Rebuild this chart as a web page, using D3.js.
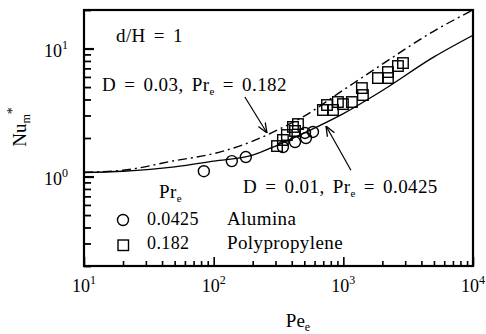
<!DOCTYPE html>
<html>
<head>
<meta charset="utf-8">
<script src="https://cdn.jsdelivr.net/npm/d3@7"></script>
<style>
  body { margin: 0; background: white; }
  svg { display: block; font-family: "Liberation Serif", "DejaVu Serif", serif; }
</style>
</head>
<body>
<div id="chart"></div>
<script>
// measured points, Alumina (Pr_e = 0.0425)
const aluminaPe = [84, 138, 177, 342, 424, 515, 506, 583];
const aluminaNu = [1.10, 1.32, 1.42, 1.70, 1.86, 2.00, 2.19, 2.23];

// measured points, Polypropylene (Pr_e = 0.182)
const polyPe = [308, 342, 367, 409, 447, 424, 696, 748, 832, 908, 993, 1164, 1390, 1416, 1849, 2208, 2208, 2636, 2884];
const polyNu = [1.73, 1.93, 2.11, 2.44, 2.57, 2.27, 3.31, 3.62, 3.31, 3.82, 3.68, 3.82, 4.91, 4.33, 5.88, 6.55, 5.88, 7.30, 7.70];

// predicted curves
const curvePe = [10, 20, 50, 100, 200, 300, 500, 1000, 2000, 5000, 10000];
const solidNu = [1.075, 1.10, 1.19, 1.32, 1.47, 1.73, 2.19, 3.10, 4.70, 8.60, 12.7];   // D = 0.01, Pr_e = 0.0425
const dashNu  = [1.08, 1.12, 1.33, 1.51, 1.89, 2.27, 2.97, 4.74, 7.55, 13.7, 20.0];   // D = 0.03, Pr_e = 0.182

const xDecades = [10, 100, 1000, 10000];
const yDecades = [1, 10];

const width = 486, height = 334;
const margin = {left: 84, right: 13, top: 10, bottom: 68};

const x = d3.scaleLog().domain([10, 10000]).range([margin.left, width - margin.right]);
const y = d3.scaleLog().domain([0.2, 20]).range([height - margin.bottom, margin.top]);

const svg = d3.create("svg")
    .attr("width", width)
    .attr("height", height)
    .attr("viewBox", [0, 0, width, height]);

// minor tick values
const xMinor = [];
for (const d of [10, 100, 1000]) for (let k = 2; k <= 9; k++) xMinor.push(d * k);
const yMinor = [];
for (const d of [0.1, 1, 10]) for (let k = 2; k <= 9; k++) if (d * k >= 0.2 && d * k <= 20) yMinor.push(d * k);

// x ticks (inside)
svg.append("g")
    .attr("transform", `translate(0,${y.range()[0]})`)
    .call(d3.axisBottom(x).tickValues(xMinor).tickSizeInner(-5).tickSizeOuter(0).tickFormat(""))
    .call(g => g.select(".domain").remove())
    .selectAll("line").attr("stroke-width", 1.6);
svg.append("g")
    .attr("transform", `translate(0,${y.range()[0]})`)
    .call(d3.axisBottom(x).tickValues(xDecades).tickSizeInner(-9).tickSizeOuter(0).tickFormat(""))
    .call(g => g.select(".domain").remove())
    .selectAll("line").attr("stroke-width", 1.6);

// y ticks (inside)
svg.append("g")
    .attr("transform", `translate(${x.range()[0]},0)`)
    .call(d3.axisLeft(y).tickValues(yMinor).tickSizeInner(-7).tickSizeOuter(0).tickFormat(""))
    .call(g => g.select(".domain").remove())
    .selectAll("line").attr("stroke-width", 1.8);
svg.append("g")
    .attr("transform", `translate(${x.range()[0]},0)`)
    .call(d3.axisLeft(y).tickValues(yDecades).tickSizeInner(-10).tickSizeOuter(0).tickFormat(""))
    .call(g => g.select(".domain").remove())
    .selectAll("line").attr("stroke-width", 2.2);

// frame
svg.append("rect")
    .attr("x", x.range()[0])
    .attr("y", y.range()[1])
    .attr("width", x.range()[1] - x.range()[0])
    .attr("height", y.range()[0] - y.range()[1])
    .attr("fill", "none")
    .attr("stroke", "black")
    .attr("stroke-width", 2.2);

// tick labels
const xl = svg.append("g").selectAll("text")
    .data(xDecades)
    .join("text")
    .attr("x", d => x(d))
    .attr("y", y.range()[0] + 26)
    .attr("text-anchor", "middle")
    .attr("font-size", 18);
xl.append("tspan").text("10");
xl.append("tspan").attr("dy", -8).attr("font-size", 12).text(d => Math.round(Math.log10(d)));

const yl = svg.append("g").selectAll("text")
    .data(yDecades)
    .join("text")
    .attr("x", x.range()[0] - 16)
    .attr("y", d => y(d) + 8)
    .attr("text-anchor", "end")
    .attr("font-size", 18);
yl.append("tspan").text("10");
yl.append("tspan").attr("dy", -8).attr("font-size", 12).text(d => Math.round(Math.log10(d)));

// axis titles
const xt = svg.append("text")
    .attr("x", 298)
    .attr("y", 327)
    .attr("text-anchor", "middle")
    .attr("font-size", 19);
xt.append("tspan").text("Pe");
xt.append("tspan").attr("dy", 4).attr("font-size", 12).text("e");

const yt = svg.append("text")
    .attr("transform", "translate(26,127) rotate(-90)")
    .attr("text-anchor", "middle")
    .attr("font-size", 19);
yt.append("tspan").text("Nu");
yt.append("tspan").attr("dy", 4).attr("font-size", 12).text("m");
yt.append("tspan").attr("dy", -13).attr("font-size", 14).text("*");

// curves
const line = d3.line()
    .x(d => x(d[0]))
    .y(d => y(d[1]))
    .curve(d3.curveMonotoneX);

svg.append("path")
    .attr("d", line(d3.zip(curvePe, solidNu)))
    .attr("fill", "none")
    .attr("stroke", "black")
    .attr("stroke-width", 1.4);

svg.append("path")
    .attr("d", line(d3.zip(curvePe, dashNu)))
    .attr("fill", "none")
    .attr("stroke", "black")
    .attr("stroke-width", 1.4)
    .attr("stroke-dasharray", "9,4,2,4");

// data markers
svg.append("g").selectAll("circle")
    .data(d3.zip(aluminaPe, aluminaNu))
    .join("circle")
    .attr("cx", d => x(d[0]))
    .attr("cy", d => y(d[1]))
    .attr("r", 5.5)
    .attr("fill", "none")
    .attr("stroke", "black")
    .attr("stroke-width", 1.4);

const sq = 10.5;
svg.append("g").selectAll("rect")
    .data(d3.zip(polyPe, polyNu))
    .join("rect")
    .attr("x", d => x(d[0]) - sq / 2)
    .attr("y", d => y(d[1]) - sq / 2)
    .attr("width", sq)
    .attr("height", sq)
    .attr("fill", "none")
    .attr("stroke", "black")
    .attr("stroke-width", 1.4);

// arrows
svg.append("defs").append("marker")
    .attr("id", "head")
    .attr("viewBox", "0 0 10 10")
    .attr("refX", 10).attr("refY", 5)
    .attr("markerWidth", 10).attr("markerHeight", 10)
    .attr("markerUnits", "userSpaceOnUse")
    .attr("orient", "auto")
    .append("path")
    .attr("d", "M0,1 L10,5 L0,9")
    .attr("fill", "none")
    .attr("stroke", "black")
    .attr("stroke-width", 1.3);

const arrows = [
    {from: [174, 4.18], to: [258, 2.19]},
    {from: [1145, 1.12], to: [735, 2.48]}
];
svg.append("g").selectAll("line")
    .data(arrows)
    .join("line")
    .attr("x1", d => x(d.from[0])).attr("y1", d => y(d.from[1]))
    .attr("x2", d => x(d.to[0])).attr("y2", d => y(d.to[1]))
    .attr("stroke", "black")
    .attr("stroke-width", 1.2)
    .attr("marker-end", "url(#head)");

// annotations
function label(px, py, parts, size = 19) {
    const t = svg.append("text").attr("x", px).attr("y", py)
        .attr("font-size", size)
        .attr("letter-spacing", 0.4)
        .attr("word-spacing", 3);
    for (const p of parts) {
        const s = t.append("tspan").text(p.t);
        if (p.sub) s.attr("font-size", 11).attr("dy", 4);
        if (p.back) s.attr("dy", -4);
    }
    return t;
}
label(116, 42, [{t: "d/H = 1"}]);
label(102, 91, [{t: "D = 0.03, Pr"}, {t: "e", sub: true}, {t: " = 0.182", back: true}]);
label(243, 193, [{t: "D = 0.01, Pr"}, {t: "e", sub: true}, {t: " = 0.0425", back: true}]);

// legend
label(159, 198, [{t: "Pr"}, {t: "e", sub: true}]);
svg.append("circle").attr("cx", 123).attr("cy", 220).attr("r", 5.5)
    .attr("fill", "none").attr("stroke", "black").attr("stroke-width", 1.4);
svg.append("rect").attr("x", 118).attr("y", 240).attr("width", sq).attr("height", sq)
    .attr("fill", "none").attr("stroke", "black").attr("stroke-width", 1.4);
label(147, 225, [{t: "0.0425"}], 18);
label(227, 225, [{t: "Alumina"}]);
label(147, 249, [{t: "0.182"}], 18);
label(227, 249, [{t: "Polypropylene"}]);

document.getElementById("chart").appendChild(svg.node());
</script>
</body>
</html>
